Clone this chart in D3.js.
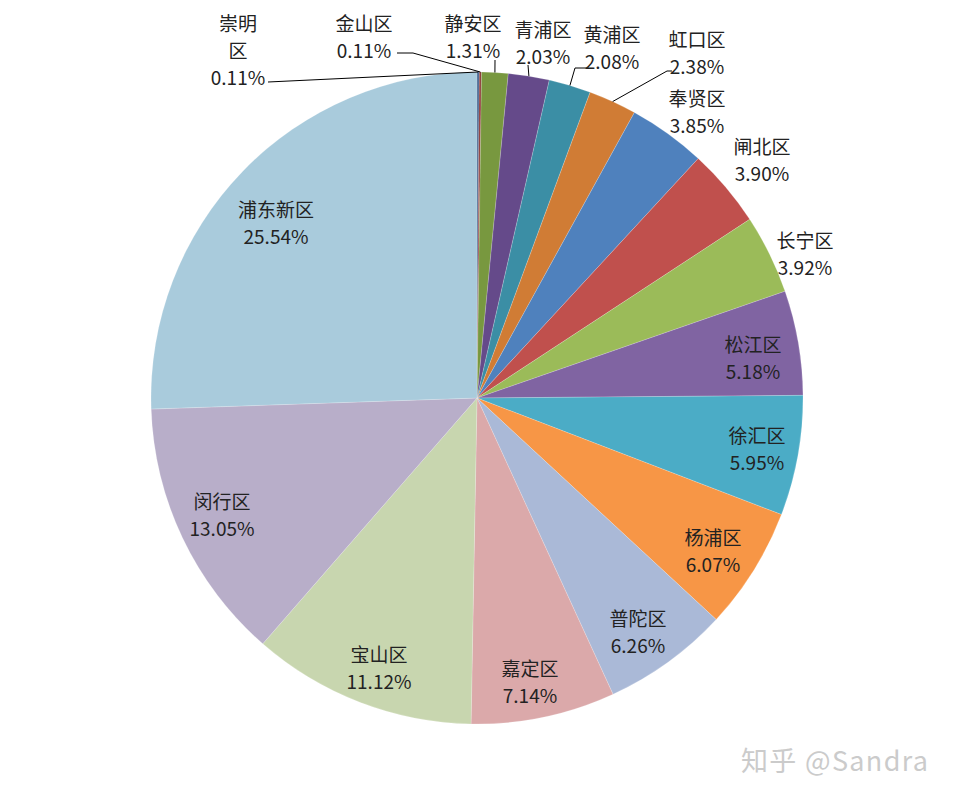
<!DOCTYPE html>
<html>
<head>
<meta charset="utf-8">
<script src="https://cdn.jsdelivr.net/npm/d3@7"></script>
<style>
  html, body { margin: 0; padding: 0; background: #ffffff; }
  svg { display: block; }
  text { font-family: "Noto Sans CJK SC", "Noto Sans", sans-serif; }
</style>
</head>
<body>
<svg id="chart" width="953" height="797"></svg>
<script>
// ---- data ----
const districts = ["崇明区", "金山区", "静安区", "青浦区", "黄浦区", "虹口区", "奉贤区", "闸北区",
  "长宁区", "松江区", "徐汇区", "杨浦区", "普陀区", "嘉定区", "宝山区", "闵行区", "浦东新区"];
const shares = [0.11, 0.11, 1.31, 2.03, 2.08, 2.38, 3.85, 3.90,
  3.92, 5.18, 5.95, 6.07, 6.26, 7.14, 11.12, 13.05, 25.54];

// ---- styles ----
const sliceColors = ["#3f5f8c", "#8e3b39", "#78983f", "#654a8a", "#3b8ea5", "#d07c35", "#4f81bd", "#c0504d",
  "#9bbb59", "#8064a2", "#4bacc6", "#f79646", "#aab9d7", "#dba9aa", "#c8d6af", "#b8aec9", "#a9cbdc"];

// ---- label layout (centre of first text line) ----
const labelAnchors = [[238, 22], [364, 22], [473, 22], [543, 28], [612, 33], [697, 38], [697, 97], [762, 145],
  [805, 239], [753, 343], [757, 434], [713, 536], [638, 617], [530, 667], [379, 653], [222, 500], [276, 208]];
// label-side leader points for outside labels (null = no leader)
const leaderPoints = [[[268, 82]], [[397, 53], [413, 53]], [[495, 60]], [[528, 65]], [[587, 68], [575, 68]],
  [[672, 71], [667, 71]], null, null, null, null, null, null, null, null, null, null, null];

const cx = 477, cy = 398, R = 326;
const lineGap = 27;

const svg = d3.select("#chart");
const g = svg.append("g").attr("transform", `translate(${cx},${cy})`);

const pie = d3.pie().sort(null).value(d => d.v);
const arcs = pie(districts.map((n, i) => ({ name: n, v: shares[i], i })));
const arc = d3.arc().innerRadius(0).outerRadius(R);

g.selectAll("path.slice")
  .data(arcs)
  .enter().append("path")
  .attr("class", "slice")
  .attr("d", arc)
  .attr("fill", d => sliceColors[d.data.i])
  .attr("stroke", "rgba(255,255,255,0.3)")
  .attr("stroke-width", 0.6);

// leader lines
arcs.forEach(d => {
  const pts = leaderPoints[d.data.i];
  if (!pts) return;
  const mid = (d.startAngle + d.endAngle) / 2;
  const ex = cx + R * Math.sin(mid), ey = cy - R * Math.cos(mid);
  const all = pts.concat([[ex, ey]]);
  svg.append("path")
    .attr("d", d3.line()(all))
    .attr("fill", "none")
    .attr("stroke", "#000")
    .attr("stroke-width", 1);
});

// labels
const fmt = d3.format(".2f");
arcs.forEach(d => {
  const i = d.data.i;
  const [lx, ly] = labelAnchors[i];
  let lines;
  if (i === 0) lines = ["崇明", "区", fmt(shares[i]) + "%"];
  else lines = [districts[i], fmt(shares[i]) + "%"];
  const t = svg.append("text")
    .attr("text-anchor", "middle")
    .attr("font-size", 19)
    .attr("fill", "#222");
  lines.forEach((s, k) => {
    t.append("tspan")
      .attr("x", lx)
      .attr("y", ly + k * lineGap)
      .attr("dominant-baseline", "central")
      .text(s);
  });
});

// watermark
svg.append("text")
  .attr("x", 741).attr("y", 759)
  .attr("dominant-baseline", "central")
  .attr("font-size", 27)
  .attr("fill", "#cbcbcb")
  .attr("textLength", 187)
  .attr("lengthAdjust", "spacing")
  .text("知乎 @Sandra");
</script>
</body>
</html>
